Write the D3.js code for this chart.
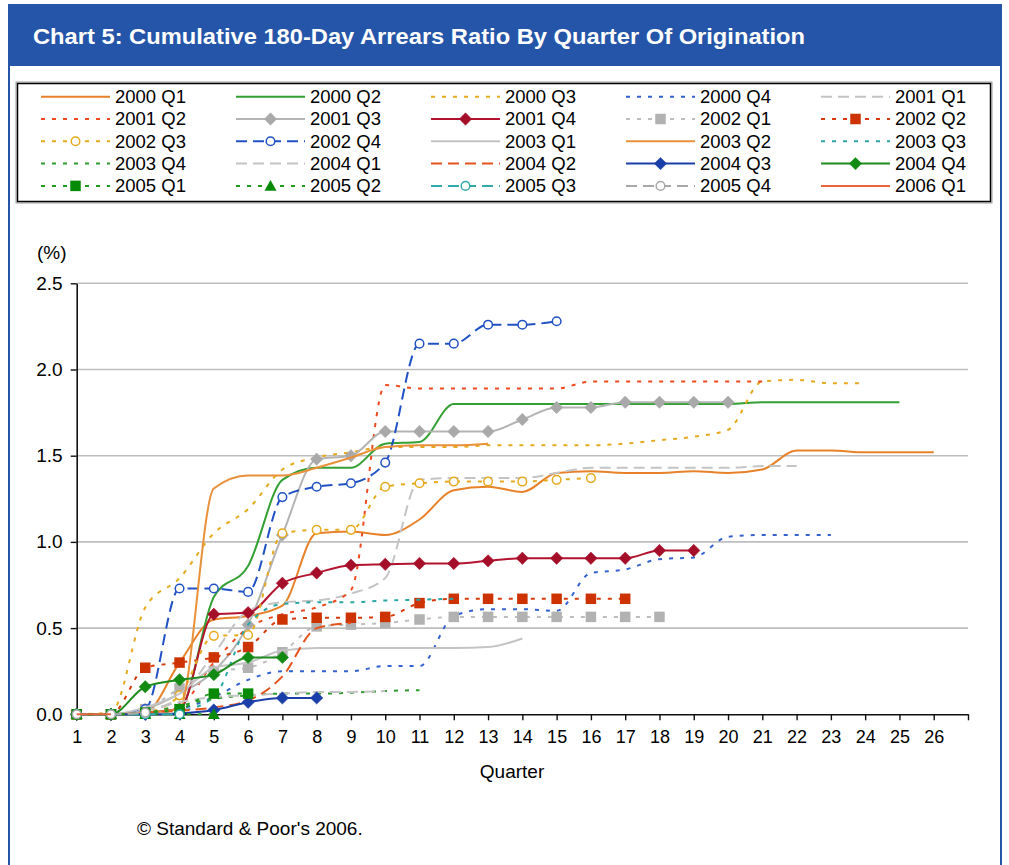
<!DOCTYPE html>
<html><head><meta charset="utf-8">
<script src="https://cdn.jsdelivr.net/npm/d3@7"></script>
<style>
body{margin:0;background:#fff;}
svg{display:block;font-family:"Liberation Sans",Arial,sans-serif;}
</style></head><body>
<svg id="chart" width="1009" height="865"></svg>
<script>
// ---------------- DATA ----------------
const titleText = "Chart 5: Cumulative 180-Day Arrears Ratio By Quarter Of Origination";
const xTickLabels = d3.range(1, 27);          // quarters 1..26
const yTickValues = [0, 0.5, 1.0, 1.5, 2.0, 2.5];
const seriesNames = [
  "2000 Q1","2000 Q2","2000 Q3","2000 Q4","2001 Q1",
  "2001 Q2","2001 Q3","2001 Q4","2002 Q1","2002 Q2",
  "2002 Q3","2002 Q4","2003 Q1","2003 Q2","2003 Q3",
  "2003 Q4","2004 Q1","2004 Q2","2004 Q3","2004 Q4",
  "2005 Q1","2005 Q2","2005 Q3","2005 Q4","2006 Q1"
];
const s2000Q1 = [0,0,0.01,0.3,0.55,0.57,0.63,1.05,1.06,1.04,1.13,1.30,1.32,1.29,1.40,1.41,1.40,1.40,1.41,1.40,1.42,1.53,1.53,1.52,1.52,1.52];
const s2000Q2 = [0,0,0.01,0.03,0.68,0.86,1.36,1.43,1.43,1.57,1.58,1.80,1.80,1.80,1.80,1.80,1.80,1.80,1.80,1.80,1.81,1.81,1.81,1.81,1.81];
const s2000Q3 = [0,0.01,0.62,0.79,1.05,1.19,1.42,1.49,1.52,1.55,1.55,1.55,1.56,1.56,1.56,1.56,1.57,1.59,1.61,1.65,1.93,1.94,1.92,1.92];
const s2000Q4 = [0,0,0.01,0.03,0.10,0.20,0.25,0.25,0.25,0.28,0.28,0.57,0.61,0.61,0.60,0.82,0.84,0.90,0.91,1.03,1.04,1.04,1.04];
const s2001Q1 = [0,0,0.02,0.10,0.35,0.60,0.65,0.66,0.70,0.79,1.36,1.37,1.37,1.37,1.40,1.43,1.43,1.43,1.43,1.43,1.44,1.44];
const s2001Q2 = [0,0,0.01,0.05,0.30,0.50,0.58,0.62,0.72,1.91,1.89,1.89,1.89,1.89,1.89,1.93,1.93,1.93,1.93,1.93,1.93];
const s2001Q3 = [0,0,0.03,0.12,0.25,0.52,1.04,1.48,1.50,1.64,1.64,1.64,1.64,1.71,1.78,1.78,1.81,1.81,1.81,1.81];
const s2001Q4 = [0,0,0.01,0.03,0.58,0.59,0.76,0.82,0.865,0.87,0.875,0.875,0.89,0.905,0.905,0.905,0.905,0.95,0.95];
const s2002Q1 = [0,0,0.03,0.15,0.25,0.27,0.36,0.51,0.52,0.53,0.55,0.565,0.565,0.565,0.565,0.565,0.565,0.565];
const s2002Q2 = [0,0,0.27,0.30,0.33,0.39,0.55,0.56,0.56,0.565,0.645,0.67,0.67,0.67,0.67,0.67,0.67];
const s2002Q3 = [0,0,0.01,0.11,0.455,0.46,1.05,1.07,1.07,1.32,1.34,1.35,1.35,1.35,1.36,1.37];
const s2002Q4 = [0,0,0.03,0.73,0.73,0.71,1.26,1.32,1.34,1.46,2.15,2.15,2.26,2.26,2.28];
const s2003Q1 = [0,0,0.04,0.12,0.27,0.30,0.37,0.385,0.385,0.385,0.385,0.385,0.39,0.44];
const s2003Q2 = [0,0,0.01,0.03,1.31,1.385,1.385,1.43,1.49,1.55,1.56,1.56,1.57];
const s2003Q3 = [0,0,0.01,0.02,0.10,0.52,0.64,0.65,0.65,0.66,0.665,0.67];
const s2003Q4 = [0,0,0.01,0.05,0.09,0.11,0.12,0.12,0.125,0.135,0.14];
const s2004Q1 = [0,0,0.02,0.07,0.10,0.11,0.12,0.13,0.13,0.135];
const s2004Q2 = [0,0,0.01,0.02,0.04,0.08,0.22,0.50,0.53];
const s2004Q3 = [0,0,0,0.005,0.025,0.07,0.095,0.095];
const s2004Q4 = [0,0,0.16,0.20,0.23,0.33,0.33];
const s2005Q1 = [0,0,0.01,0.03,0.12,0.12];
const s2005Q2 = [0,0,0,0,0];
const s2005Q3 = [0,0,0,0];
const s2005Q4 = [0,0,0.01];
const s2006Q1 = [0,0];
const seriesValues = [s2000Q1,s2000Q2,s2000Q3,s2000Q4,s2001Q1,s2001Q2,s2001Q3,s2001Q4,s2002Q1,s2002Q2,
  s2002Q3,s2002Q4,s2003Q1,s2003Q2,s2003Q3,s2003Q4,s2004Q1,s2004Q2,s2004Q3,s2004Q4,
  s2005Q1,s2005Q2,s2005Q3,s2005Q4,s2006Q1];

// ---------------- STYLES ----------------
const DOT = "4,7", DASH = "11,6";
const seriesStyles = [
  {c:"#E8822A", d:null, m:null},
  {c:"#33A033", d:null, m:null},
  {c:"#E6AA1E", d:DOT, m:null},
  {c:"#3462D0", d:DOT, m:null},
  {c:"#C4C4C4", d:DASH, m:null},
  {c:"#EE4A1E", d:DOT, m:null},
  {c:"#B4B4B4", d:null, m:"diamond", f:"#A9A9A9"},
  {c:"#B3132F", d:null, m:"diamond", f:"#A50E28"},
  {c:"#BDBDBD", d:DOT, m:"square", f:"#B2B2B2"},
  {c:"#D63A0A", d:DOT, m:"square", f:"#CC3300"},
  {c:"#E6AA1E", d:DOT, m:"circle", f:"#fff"},
  {c:"#2152C4", d:DASH, m:"circle", f:"#fff"},
  {c:"#C4C4C4", d:null, m:null},
  {c:"#E8913A", d:null, m:null},
  {c:"#2AA6A6", d:DOT, m:null},
  {c:"#2E9B2E", d:DOT, m:null},
  {c:"#C4C4C4", d:DASH, m:null},
  {c:"#E5531C", d:DASH, m:null},
  {c:"#1A3FA8", d:null, m:"diamond", f:"#1A3FA8"},
  {c:"#1E8C1E", d:null, m:"diamond", f:"#138A13"},
  {c:"#1E9A1E", d:DOT, m:"square", f:"#078A07"},
  {c:"#1E9A1E", d:DOT, m:"triangle", f:"#078A07"},
  {c:"#33AAAA", d:DASH, m:"circle", f:"#fff"},
  {c:"#A8A8A8", d:DASH, m:"circle", f:"#fff"},
  {c:"#E8643A", d:null, m:null}
];

// ---------------- DRAW ----------------
const svg = d3.select("#chart");
const blue = "#2455A8";

svg.append("rect").attr("x",0).attr("y",0).attr("width",1009).attr("height",865).attr("fill","#fff");
svg.append("rect").attr("x",9).attr("y",5).attr("width",992).attr("height",880)
  .attr("fill","#fff").attr("stroke",blue).attr("stroke-width",2);
svg.append("rect").attr("x",8).attr("y",4).attr("width",994).attr("height",62).attr("fill",blue);
svg.append("text").attr("x",33).attr("y",44).attr("fill","#fff")
  .attr("font-size",22).attr("font-weight","bold")
  .attr("textLength",772).attr("lengthAdjust","spacingAndGlyphs").text(titleText);

// Legend
svg.append("rect").attr("x",16).attr("y",82).attr("width",976).attr("height",121)
  .attr("fill","none").attr("stroke","#9a9a9a").attr("stroke-width",1);
svg.append("rect").attr("x",17.5).attr("y",83.5).attr("width",973).attr("height",118)
  .attr("fill","#fff").attr("stroke","#000").attr("stroke-width",1.5);

function drawMarker(g, type, st, x, y) {
  if (!type) return;
  const sw = 1.5;
  if (type === "diamond") {
    const r = 6.2;
    g.append("path").attr("d",`M${x},${y-r}L${x+r},${y}L${x},${y+r}L${x-r},${y}Z`)
      .attr("fill",st.f).attr("stroke",st.f).attr("stroke-width",0.5);
  } else if (type === "square") {
    const s = 10.5;
    g.append("rect").attr("x",x-s/2).attr("y",y-s/2).attr("width",s).attr("height",s)
      .attr("fill",st.f);
  } else if (type === "triangle") {
    const r = 6;
    g.append("path").attr("d",`M${x},${y-r}L${x+r},${y+r*0.8}L${x-r},${y+r*0.8}Z`).attr("fill",st.f);
  } else if (type === "circle") {
    g.append("circle").attr("cx",x).attr("cy",y).attr("r",4.3)
      .attr("fill","#fff").attr("stroke",st.c).attr("stroke-width",sw);
  }
}

const legG = svg.append("g");
seriesNames.forEach((name, i) => {
  const col = i % 5, row = Math.floor(i / 5);
  const tx = 115 + col * 195, ty = 96.7 + row * 22.3;
  const st = seriesStyles[i];
  legG.append("line").attr("x1",tx-74).attr("x2",tx-5).attr("y1",ty).attr("y2",ty)
    .attr("stroke",st.c).attr("stroke-width",2).attr("stroke-dasharray",st.d);
  drawMarker(legG, st.m, st, tx-39.5, ty);
  legG.append("text").attr("x",tx).attr("y",ty).attr("dy","0.35em")
    .attr("font-size",18.5).attr("fill","#000").text(name);
});

// Plot
const x = d3.scaleLinear().domain([1,27]).range([76.7,968]);
const y = d3.scaleLinear().domain([0,2.5]).range([714.3,283.3]);

const grid = svg.append("g");
yTickValues.filter(v => v > 0).forEach(v => {
  grid.append("line").attr("x1",x(1)).attr("x2",x(27)).attr("y1",y(v)).attr("y2",y(v))
    .attr("stroke","#BEBEBE").attr("stroke-width",1.6);
});

const yAxis = svg.append("g").attr("transform",`translate(${x(1)},0)`)
  .call(d3.axisLeft(y).tickValues(yTickValues).tickFormat(d3.format(".1f")).tickSize(6).tickSizeOuter(0).tickPadding(8));
yAxis.select(".domain").attr("stroke","#111").attr("stroke-width",1.6);
yAxis.selectAll(".tick line").attr("stroke","#111").attr("stroke-width",1.4);
yAxis.selectAll("text").attr("font-size",19).attr("fill","#000").attr("font-family","Liberation Sans, Arial, sans-serif");

const xAxis = svg.append("g").attr("transform",`translate(0,${y(0)})`)
  .call(d3.axisBottom(x).tickValues(d3.range(1,28)).tickFormat(d => d <= 26 ? d : "").tickSize(6).tickSizeOuter(0).tickPadding(10));
xAxis.select(".domain").attr("stroke","#111").attr("stroke-width",1.6);
xAxis.selectAll(".tick line").attr("stroke","#111").attr("stroke-width",1.4);
xAxis.selectAll("text").attr("font-size",18).attr("fill","#000").attr("font-family","Liberation Sans, Arial, sans-serif");

svg.append("text").attr("x",37).attr("y",252).attr("dy","0.35em").attr("font-size",19).text("(%)");
svg.append("text").attr("x",x(13.7)).attr("y",771).attr("dy","0.35em").attr("text-anchor","middle")
  .attr("font-size",19).text("Quarter");
svg.append("text").attr("x",137).attr("y",828).attr("dy","0.35em").attr("font-size",19)
  .text("\u00A9 Standard & Poor's 2006.");

const line = d3.line().x((d,i) => x(i+1)).y(d => y(d)).curve(d3.curveMonotoneX);
const plotG = svg.append("g");
seriesValues.forEach((vals, i) => {
  const st = seriesStyles[i];
  const g = plotG.append("g");
  g.append("path").attr("d", line(vals)).attr("fill","none").attr("stroke",st.c)
    .attr("stroke-width",2).attr("stroke-dasharray",st.d).attr("stroke-linejoin","round");
  if (st.m) vals.forEach((v, j) => drawMarker(g, st.m, st, x(j+1), y(v)));
});
</script>
</body></html>
